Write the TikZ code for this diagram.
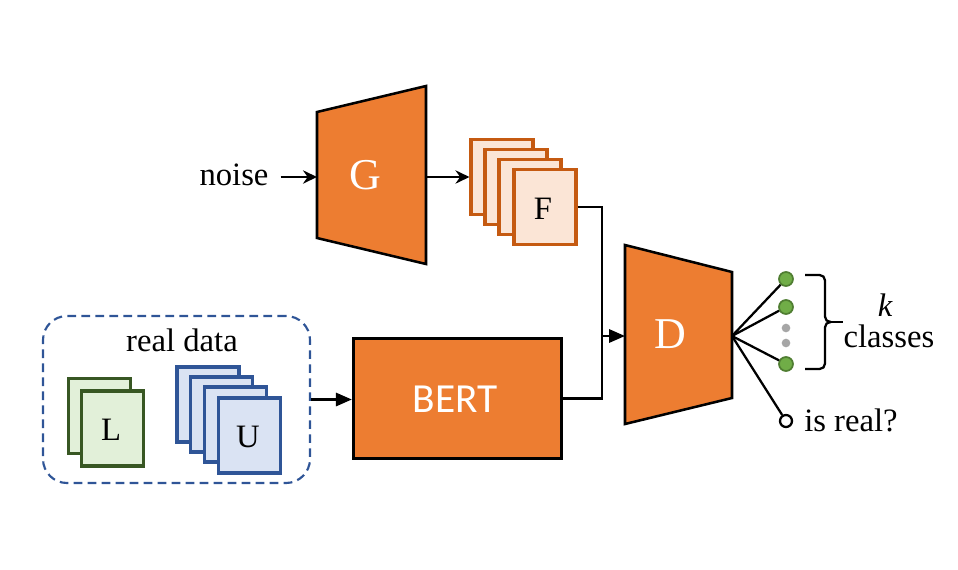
\documentclass[tikz,border=0pt]{standalone}
\usepackage{fontspec}
\setmainfont{Liberation Serif}
\newfontfamily\bertfont{Carlito}
\usetikzlibrary{arrows.meta}
\definecolor{gorange}{HTML}{ED7D31}
\definecolor{flight}{HTML}{FBE5D6}
\definecolor{fborder}{HTML}{C55A11}
\definecolor{lfill}{HTML}{E2F0D9}
\definecolor{lborder}{HTML}{385723}
\definecolor{ufill}{HTML}{DAE3F3}
\definecolor{uborder}{HTML}{2F5597}
\definecolor{dashblue}{HTML}{2F5597}
\definecolor{cgreen}{HTML}{70AD47}
\definecolor{cgreenb}{HTML}{507E32}
\definecolor{dotgray}{HTML}{A6A6A6}
\begin{document}
\begin{tikzpicture}[x=0.75pt,y=-0.75pt,
  txt/.style={font=\fontsize{24.5}{28}\selectfont, inner sep=0pt},
  bigtxt/.style={font=\fontsize{33}{36}\selectfont, text=white, inner sep=0pt},
  trap/.style={fill=gorange, draw=black, line width=1.9pt, line join=miter},
  card/.style={line width=2.3pt, minimum width=46.5pt, minimum height=56.25pt, inner sep=0pt},
  fcard/.style={card, draw=fborder, fill=flight},
  lcard/.style={card, draw=lborder, fill=lfill},
  ucard/.style={card, draw=uborder, fill=ufill},
  conn/.style={line width=1.7pt, black},
  stealtharrow/.style={conn, -{Stealth[length=10.5pt,width=10pt,inset=3.5pt]}},
  triarrow/.style={conn, -{Triangle[length=12pt,width=10pt]}},
  greendot/.style={circle, fill=cgreen, draw=cgreenb, line width=1.3pt, minimum size=10.5pt, inner sep=0pt},
  graydot/.style={circle, fill=dotgray, minimum size=6.5pt, inner sep=0pt},
  opendot/.style={circle, fill=white, draw=black, line width=1.7pt, minimum size=9pt, inner sep=0pt}
]
\useasboundingbox (0,0) rectangle (958,569);

% Generator
\draw[trap] (317,112) -- (426,86) -- (426,264) -- (317,238) -- cycle;
\node[bigtxt, anchor=base] (G) at (365,189) {G};
\coordinate (Gin) at (317,177);
\coordinate (Gout) at (426,177);
\node[txt, anchor=base] (noise) at (234,185) {noise};
\draw[stealtharrow, shorten <=9pt] (noise.east |- Gin) -- (Gin);

% Fake samples
\node[fcard] (f1) at (502,177) {};
\node[fcard] (f2) at (516,187) {};
\node[fcard] (f3) at (530,197) {};
\node[fcard] (f4) at (545,207) {};
\node[txt, anchor=base] (Ftxt) at (543,219) {F};
\draw[stealtharrow] (Gout) -- (f1.west);

% Real data
\node[draw=dashblue, line width=1.6pt, dash pattern=on 6.5pt off 4pt, rounded corners=18pt,
      minimum width=200.25pt, minimum height=125.25pt] (realbox) at (176.5,399.5) {};
\node[txt, anchor=base] (realtxt) at (182,351) {real data};
\node[lcard] (l1) at (99.5,416) {};
\node[lcard] (l2) at (112.5,428.5) {};
\node[txt, anchor=base] (Ltxt) at (111,440) {L};
\node[ucard] (u1) at (208,404.5) {};
\node[ucard] (u2) at (221.5,414.5) {};
\node[ucard] (u3) at (235.5,424.5) {};
\node[ucard] (u4) at (249.5,435.5) {};
\node[txt, anchor=base] (Utxt) at (248,447) {U};

% BERT
\node[fill=gorange, draw=black, line width=2.5pt, minimum width=156pt, minimum height=90pt, inner sep=0pt] (bert) at (457.5,398.5) {};
\node[font=\bertfont\fontsize{31}{36}\selectfont, text=white, inner sep=0pt, anchor=base] (berttxt) at (455,412) {BERT};
\draw[triarrow] (realbox.east) -- (realbox.east -| bert.west);

% Discriminator
\draw[trap] (625,245) -- (732,272) -- (732,398) -- (625,424) -- cycle;
\node[bigtxt, anchor=base] (D) at (670,348) {D};
\coordinate (Din) at (625,336);
\coordinate (Dout) at (732,336);
\coordinate (junc) at (602,336);
\draw[conn] (f4.east) -| (junc);
\draw[conn] (bert.east) -| (junc);
\draw[triarrow] (junc) -- (Din);

% Outputs
\node[greendot] (c1) at (786,279) {};
\node[greendot] (c2) at (786,307) {};
\node[greendot] (c3) at (786,364) {};
\node[graydot] (g1) at (786,328) {};
\node[graydot] (g2) at (786,343) {};
\node[opendot] (real) at (786,421) {};
\draw[conn] (Dout) -- (c1);
\draw[conn] (Dout) -- (c2);
\draw[conn] (Dout) -- (c3);
\draw[conn] (Dout) -- (real);
\node[txt, anchor=base west] (realq) at (804,431) {is real?};

% Brace
\draw[conn, rounded corners=4pt] (805,275) -- (825,275) -- (825,322) -- (831,322);
\draw[conn, rounded corners=4pt] (805,369) -- (825,369) -- (825,322) -- (831,322);
\draw[conn] (828,322) -- (843,322);
\node[txt, anchor=base] (ktxt) at (885,316) {\itshape k};
\node[txt, anchor=base] (classes) at (889,347) {classes};
\end{tikzpicture}
\end{document}
